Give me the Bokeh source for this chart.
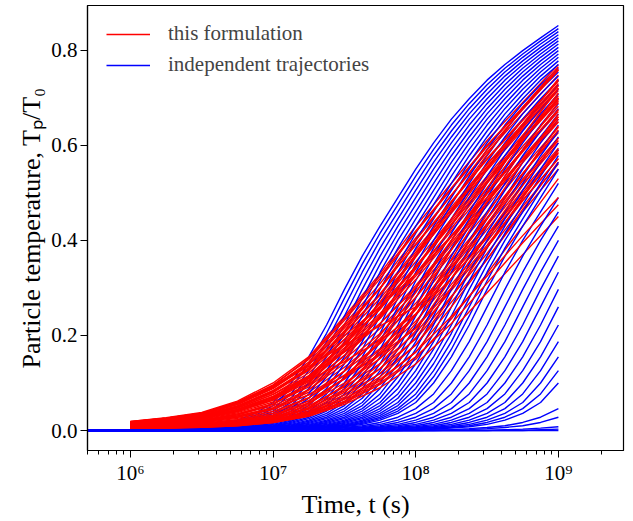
from bokeh.plotting import figure
from bokeh.models import (FixedTicker, CustomJSTickFormatter, PrintfTickFormatter,
                          Legend, LegendItem, Range1d)
from bokeh.embed import file_html
from bokeh.resources import INLINE

# ---------------- data ----------------
time_blue = [4e5,
             1e6, 1.334e6, 1.778e6, 2.371e6, 3.162e6, 4.217e6, 5.623e6, 7.499e6,
             1e7, 1.334e7, 1.778e7, 2.371e7, 3.162e7, 4.217e7, 5.623e7, 7.499e7,
             1e8, 1.334e8, 1.778e8, 2.371e8, 3.162e8, 4.217e8, 5.623e8, 7.499e8,
             1e9]
time_red = [1e6, 1.778e6, 3.162e6, 5.623e6, 1e7, 1.778e7, 3.162e7,
            5.623e7, 1e8, 1.778e8, 3.162e8, 5.623e8, 1e9]

blue_upper = [
    [0, 0, 0.0015, 0.003, 0.005, 0.008, 0.013, 0.022, 0.036, 0.059, 0.10, 0.155, 0.222, 0.297, 0.367, 0.43, 0.49, 0.55, 0.605, 0.655, 0.698, 0.737, 0.77, 0.799, 0.826, 0.852],
    [0, 0, 0.0013, 0.0025, 0.0045, 0.0073, 0.0115, 0.0195, 0.032, 0.0525, 0.0885, 0.1405, 0.2045, 0.2785, 0.35, 0.415, 0.475, 0.535, 0.5915, 0.6425, 0.6875, 0.7275, 0.762, 0.792, 0.8195, 0.8455],
    [0, 0, 0.001, 0.002, 0.004, 0.0065, 0.010, 0.017, 0.028, 0.046, 0.077, 0.126, 0.187, 0.26, 0.333, 0.40, 0.46, 0.52, 0.578, 0.63, 0.677, 0.718, 0.754, 0.785, 0.813, 0.839],
    [0, 0, 0.0005, 0.0018, 0.0035, 0.0058, 0.009, 0.015, 0.025, 0.041, 0.068, 0.113, 0.171, 0.241, 0.315, 0.3835, 0.445, 0.505, 0.564, 0.6175, 0.666, 0.708, 0.7455, 0.7775, 0.806, 0.8325],
    [0, 0, 0, 0.0015, 0.003, 0.005, 0.008, 0.013, 0.022, 0.036, 0.059, 0.10, 0.155, 0.222, 0.297, 0.367, 0.43, 0.49, 0.55, 0.605, 0.655, 0.698, 0.737, 0.77, 0.799, 0.826],
    [0, 0, 0, 0.0013, 0.0025, 0.0045, 0.0073, 0.0115, 0.0195, 0.032, 0.0525, 0.0885, 0.1405, 0.2045, 0.2785, 0.35, 0.415, 0.475, 0.535, 0.5915, 0.6425, 0.6875, 0.7275, 0.762, 0.792, 0.8195],
    [0, 0, 0, 0.001, 0.002, 0.004, 0.0065, 0.010, 0.017, 0.028, 0.046, 0.077, 0.126, 0.187, 0.26, 0.333, 0.40, 0.46, 0.52, 0.578, 0.63, 0.677, 0.718, 0.754, 0.785, 0.813],
    [0, 0, 0, 0.0005, 0.0018, 0.0035, 0.0058, 0.009, 0.015, 0.025, 0.041, 0.068, 0.113, 0.171, 0.241, 0.315, 0.3835, 0.445, 0.505, 0.564, 0.6175, 0.666, 0.708, 0.7455, 0.7775, 0.806],
    [0, 0, 0, 0, 0.0015, 0.003, 0.005, 0.008, 0.013, 0.022, 0.036, 0.059, 0.10, 0.155, 0.222, 0.297, 0.367, 0.43, 0.49, 0.55, 0.605, 0.655, 0.698, 0.737, 0.77, 0.799],
    [0, 0, 0, 0, 0.0013, 0.0025, 0.0045, 0.0073, 0.0115, 0.0195, 0.032, 0.0525, 0.0885, 0.1405, 0.2045, 0.2785, 0.35, 0.415, 0.475, 0.535, 0.5915, 0.6425, 0.6875, 0.7275, 0.762, 0.792],
    [0, 0, 0, 0, 0.001, 0.002, 0.004, 0.0065, 0.010, 0.017, 0.028, 0.046, 0.077, 0.126, 0.187, 0.26, 0.333, 0.40, 0.46, 0.52, 0.578, 0.63, 0.677, 0.718, 0.754, 0.785],
    [0, 0, 0, 0, 0.0005, 0.0018, 0.0035, 0.0058, 0.009, 0.015, 0.025, 0.041, 0.068, 0.113, 0.171, 0.241, 0.315, 0.3835, 0.445, 0.505, 0.564, 0.6175, 0.666, 0.708, 0.7455, 0.7775],
    [0, 0, 0, 0, 0, 0.0015, 0.003, 0.005, 0.008, 0.013, 0.022, 0.036, 0.059, 0.10, 0.155, 0.222, 0.297, 0.367, 0.43, 0.49, 0.55, 0.605, 0.655, 0.698, 0.737, 0.77],
    [0, 0, 0, 0, 0, 0.0013, 0.0025, 0.0045, 0.0073, 0.0115, 0.0195, 0.032, 0.0525, 0.0885, 0.1405, 0.2045, 0.2785, 0.35, 0.415, 0.475, 0.535, 0.5915, 0.6425, 0.6875, 0.7275, 0.762],
    [0, 0, 0, 0, 0, 0.001, 0.002, 0.004, 0.0065, 0.010, 0.017, 0.028, 0.046, 0.077, 0.126, 0.187, 0.26, 0.333, 0.40, 0.46, 0.52, 0.578, 0.63, 0.677, 0.718, 0.754],
    [0, 0, 0, 0, 0, 0.0005, 0.0018, 0.0035, 0.0058, 0.009, 0.015, 0.025, 0.041, 0.068, 0.113, 0.171, 0.241, 0.315, 0.3835, 0.445, 0.505, 0.564, 0.6175, 0.666, 0.708, 0.7455],
    [0, 0, 0, 0, 0, 0, 0.0015, 0.003, 0.005, 0.008, 0.013, 0.022, 0.036, 0.059, 0.10, 0.155, 0.222, 0.297, 0.367, 0.43, 0.49, 0.55, 0.605, 0.655, 0.698, 0.737],
    [0, 0, 0, 0, 0, 0, 0.0013, 0.0025, 0.0045, 0.0073, 0.0115, 0.0195, 0.032, 0.0525, 0.0885, 0.1405, 0.2045, 0.2785, 0.35, 0.415, 0.475, 0.535, 0.5915, 0.6425, 0.6875, 0.7275],
    [0, 0, 0, 0, 0, 0, 0.001, 0.002, 0.004, 0.0065, 0.010, 0.017, 0.028, 0.046, 0.077, 0.126, 0.187, 0.26, 0.333, 0.40, 0.46, 0.52, 0.578, 0.63, 0.677, 0.718],
    [0, 0, 0, 0, 0, 0, 0.0005, 0.0018, 0.0035, 0.0058, 0.009, 0.015, 0.025, 0.041, 0.068, 0.113, 0.171, 0.241, 0.315, 0.3835, 0.445, 0.505, 0.564, 0.6175, 0.666, 0.708],
    [0, 0, 0, 0, 0, 0, 0, 0.0015, 0.003, 0.005, 0.008, 0.013, 0.022, 0.036, 0.059, 0.10, 0.155, 0.222, 0.297, 0.367, 0.43, 0.49, 0.55, 0.605, 0.655, 0.698],
    [0, 0, 0, 0, 0, 0, 0, 0.0013, 0.0025, 0.0045, 0.0073, 0.0115, 0.0195, 0.032, 0.0525, 0.0885, 0.1405, 0.2045, 0.2785, 0.35, 0.415, 0.475, 0.535, 0.5915, 0.6425, 0.6875],
    [0, 0, 0, 0, 0, 0, 0, 0.001, 0.002, 0.004, 0.0065, 0.010, 0.017, 0.028, 0.046, 0.077, 0.126, 0.187, 0.26, 0.333, 0.40, 0.46, 0.52, 0.578, 0.63, 0.677],
    [0, 0, 0, 0, 0, 0, 0, 0.0005, 0.0018, 0.0035, 0.0058, 0.009, 0.015, 0.025, 0.041, 0.068, 0.113, 0.171, 0.241, 0.315, 0.3835, 0.445, 0.505, 0.564, 0.6175, 0.666],
    [0, 0, 0, 0, 0, 0, 0, 0, 0.0015, 0.003, 0.005, 0.008, 0.013, 0.022, 0.036, 0.059, 0.10, 0.155, 0.222, 0.297, 0.367, 0.43, 0.49, 0.55, 0.605, 0.655],
    [0, 0, 0, 0, 0, 0, 0, 0, 0.0013, 0.0025, 0.0045, 0.0073, 0.0115, 0.0195, 0.032, 0.0525, 0.0885, 0.1405, 0.2045, 0.2785, 0.35, 0.415, 0.475, 0.535, 0.5915, 0.6425],
    [0, 0, 0, 0, 0, 0, 0, 0, 0.001, 0.002, 0.004, 0.0065, 0.010, 0.017, 0.028, 0.046, 0.077, 0.126, 0.187, 0.26, 0.333, 0.40, 0.46, 0.52, 0.578, 0.63],
    [0, 0, 0, 0, 0, 0, 0, 0, 0.0005, 0.0018, 0.0035, 0.0058, 0.009, 0.015, 0.025, 0.041, 0.068, 0.113, 0.171, 0.241, 0.315, 0.3835, 0.445, 0.505, 0.564, 0.6175],
    [0, 0, 0, 0, 0, 0, 0, 0, 0, 0.0015, 0.003, 0.005, 0.008, 0.013, 0.022, 0.036, 0.059, 0.10, 0.155, 0.222, 0.297, 0.367, 0.43, 0.49, 0.55, 0.605],
    [0, 0, 0, 0, 0, 0, 0, 0, 0, 0.0013, 0.0025, 0.0045, 0.0073, 0.0115, 0.0195, 0.032, 0.0525, 0.0885, 0.1405, 0.2045, 0.2785, 0.35, 0.415, 0.475, 0.535, 0.5915],
    [0, 0, 0, 0, 0, 0, 0, 0, 0, 0.001, 0.002, 0.004, 0.0065, 0.010, 0.017, 0.028, 0.046, 0.077, 0.126, 0.187, 0.26, 0.333, 0.40, 0.46, 0.52, 0.578],
    [0, 0, 0, 0, 0, 0, 0, 0, 0, 0.0005, 0.0018, 0.0035, 0.0058, 0.009, 0.015, 0.025, 0.041, 0.068, 0.113, 0.171, 0.241, 0.315, 0.3835, 0.445, 0.505, 0.564],
]

blue_lower = [
    [0, 0, 0, 0, 0, 0, 0, 0, 0, 0, 0.0015, 0.003, 0.005, 0.008, 0.013, 0.022, 0.036, 0.059, 0.10, 0.155, 0.222, 0.297, 0.367, 0.43, 0.49, 0.55],
    [0, 0, 0, 0, 0, 0, 0, 0, 0, 0, 0.001, 0.002, 0.004, 0.0065, 0.010, 0.017, 0.028, 0.046, 0.077, 0.126, 0.187, 0.26, 0.333, 0.40, 0.46, 0.52],
    [0, 0, 0, 0, 0, 0, 0, 0, 0, 0, 0, 0.0015, 0.003, 0.005, 0.008, 0.013, 0.022, 0.036, 0.059, 0.10, 0.155, 0.222, 0.297, 0.367, 0.43, 0.49],
    [0, 0, 0, 0, 0, 0, 0, 0, 0, 0, 0, 0.001, 0.002, 0.004, 0.0065, 0.010, 0.017, 0.028, 0.046, 0.077, 0.126, 0.187, 0.26, 0.333, 0.40, 0.46],
    [0, 0, 0, 0, 0, 0, 0, 0, 0, 0, 0, 0, 0.0015, 0.003, 0.005, 0.008, 0.013, 0.022, 0.036, 0.059, 0.10, 0.155, 0.222, 0.297, 0.367, 0.43],
    [0, 0, 0, 0, 0, 0, 0, 0, 0, 0, 0, 0, 0.001, 0.002, 0.004, 0.0065, 0.010, 0.017, 0.028, 0.046, 0.077, 0.126, 0.187, 0.26, 0.333, 0.40],
    [0, 0, 0, 0, 0, 0, 0, 0, 0, 0, 0, 0, 0, 0.0015, 0.003, 0.005, 0.008, 0.013, 0.022, 0.036, 0.059, 0.10, 0.155, 0.222, 0.297, 0.367],
    [0, 0, 0, 0, 0, 0, 0, 0, 0, 0, 0, 0, 0, 0.001, 0.002, 0.004, 0.0065, 0.010, 0.017, 0.028, 0.046, 0.077, 0.126, 0.187, 0.26, 0.333],
    [0, 0, 0, 0, 0, 0, 0, 0, 0, 0, 0, 0, 0, 0, 0.0015, 0.003, 0.005, 0.008, 0.013, 0.022, 0.036, 0.059, 0.10, 0.155, 0.222, 0.297],
    [0, 0, 0, 0, 0, 0, 0, 0, 0, 0, 0, 0, 0, 0, 0.001, 0.002, 0.004, 0.0065, 0.010, 0.017, 0.028, 0.046, 0.077, 0.126, 0.187, 0.26],
    [0, 0, 0, 0, 0, 0, 0, 0, 0, 0, 0, 0, 0, 0, 0, 0.0015, 0.003, 0.005, 0.008, 0.013, 0.022, 0.036, 0.059, 0.10, 0.155, 0.222],
    [0, 0, 0, 0, 0, 0, 0, 0, 0, 0, 0, 0, 0, 0, 0, 0.001, 0.002, 0.004, 0.0065, 0.010, 0.017, 0.028, 0.046, 0.077, 0.126, 0.187],
    [0, 0, 0, 0, 0, 0, 0, 0, 0, 0, 0, 0, 0, 0, 0, 0, 0.0015, 0.003, 0.005, 0.008, 0.013, 0.022, 0.036, 0.059, 0.10, 0.155],
    [0, 0, 0, 0, 0, 0, 0, 0, 0, 0, 0, 0, 0, 0, 0, 0, 0.001, 0.002, 0.004, 0.0065, 0.010, 0.017, 0.028, 0.046, 0.077, 0.126],
    [0, 0, 0, 0, 0, 0, 0, 0, 0, 0, 0, 0, 0, 0, 0, 0, 0, 0.0015, 0.003, 0.005, 0.008, 0.013, 0.022, 0.036, 0.059, 0.10],
    [0, 0, 0, 0, 0, 0, 0, 0, 0, 0, 0, 0, 0, 0, 0, 0, 0, 0, 0.001, 0.002, 0.004, 0.0065, 0.010, 0.017, 0.028, 0.046],
    [0, 0, 0, 0, 0, 0, 0, 0, 0, 0, 0, 0, 0, 0, 0, 0, 0, 0, 0, 0.001, 0.002, 0.004, 0.0065, 0.010, 0.017, 0.028],
    [0, 0, 0, 0, 0, 0, 0, 0, 0, 0, 0, 0, 0, 0, 0, 0, 0, 0, 0, 0, 0, 0, 0.0015, 0.003, 0.005, 0.008],
    [0, 0, 0, 0, 0, 0, 0, 0, 0, 0, 0, 0, 0, 0, 0, 0, 0, 0, 0, 0, 0, 0, 0, 0, 0.0015, 0.003],
    [0, 0, 0, 0, 0, 0, 0, 0, 0, 0, 0, 0, 0, 0, 0, 0, 0, 0, 0, 0, 0, 0, 0, 0, 0, 0],
]

red_main = [
    [0.0115, 0.0165, 0.0235, 0.0375, 0.06, 0.0975, 0.158, 0.225, 0.305, 0.395, 0.485, 0.575, 0.66],
    [0.019, 0.027, 0.038, 0.062, 0.10, 0.155, 0.24, 0.33, 0.43, 0.52, 0.61, 0.69, 0.77],
    [0.007, 0.010, 0.015, 0.023, 0.036, 0.063, 0.108, 0.162, 0.23, 0.32, 0.41, 0.506, 0.594],
    [0.015, 0.022, 0.0305, 0.0495, 0.08, 0.1265, 0.199, 0.2775, 0.3675, 0.4575, 0.5475, 0.6325, 0.715],
    [0.0175, 0.025, 0.035, 0.057, 0.092, 0.144, 0.224, 0.309, 0.405, 0.495, 0.585, 0.667, 0.748],
    [0.009, 0.013, 0.0195, 0.0305, 0.048, 0.0805, 0.133, 0.1935, 0.2675, 0.3575, 0.4475, 0.5405, 0.627],
    [0.016, 0.023, 0.032, 0.052, 0.084, 0.132, 0.207, 0.288, 0.38, 0.47, 0.56, 0.644, 0.726],
    [0.004, 0.006, 0.009, 0.013, 0.02, 0.04, 0.075, 0.12, 0.18, 0.27, 0.36, 0.46, 0.55],
    [0.0145, 0.021, 0.029, 0.047, 0.076, 0.121, 0.191, 0.267, 0.355, 0.445, 0.535, 0.621, 0.704],
    [0.011, 0.015, 0.022, 0.035, 0.056, 0.092, 0.1495, 0.2145, 0.2925, 0.3825, 0.4725, 0.5635, 0.649],
    [0.018, 0.026, 0.0365, 0.0595, 0.096, 0.1495, 0.232, 0.3195, 0.4175, 0.5075, 0.5975, 0.6785, 0.759],
    [0.0055, 0.008, 0.012, 0.018, 0.028, 0.052, 0.092, 0.141, 0.205, 0.295, 0.385, 0.483, 0.572],
    [0.013, 0.019, 0.026, 0.042, 0.068, 0.109, 0.174, 0.246, 0.33, 0.42, 0.51, 0.598, 0.682],
    [0.008, 0.011, 0.0165, 0.0255, 0.04, 0.069, 0.1165, 0.1725, 0.2425, 0.3325, 0.4225, 0.5175, 0.605],
    [0.017, 0.024, 0.0335, 0.0545, 0.088, 0.138, 0.2155, 0.2985, 0.3925, 0.4825, 0.5725, 0.6555, 0.737],
    [0.010, 0.014, 0.021, 0.033, 0.052, 0.086, 0.141, 0.204, 0.28, 0.37, 0.46, 0.552, 0.638],
    [0.014, 0.020, 0.0275, 0.0445, 0.072, 0.115, 0.1825, 0.2565, 0.3425, 0.4325, 0.5225, 0.6095, 0.693],
    [0.006, 0.009, 0.0135, 0.0205, 0.032, 0.0575, 0.1, 0.1515, 0.2175, 0.3075, 0.3975, 0.4945, 0.583],
    [0.012, 0.018, 0.025, 0.040, 0.064, 0.103, 0.166, 0.2355, 0.3175, 0.4075, 0.4975, 0.5865, 0.671],
    [0.0085, 0.012, 0.018, 0.028, 0.044, 0.075, 0.125, 0.183, 0.255, 0.345, 0.435, 0.529, 0.616],
    [0.005, 0.007, 0.0105, 0.0155, 0.024, 0.046, 0.0835, 0.1305, 0.1925, 0.2825, 0.3725, 0.4715, 0.561],
]

red_cross = [
    [0.0055, 0.008, 0.012, 0.018, 0.030, 0.058, 0.11, 0.19, 0.29, 0.40, 0.51, 0.62, 0.72],
    [0.004, 0.005, 0.007, 0.010, 0.017, 0.031, 0.058, 0.097, 0.15, 0.235, 0.33, 0.43, 0.53],
    [0.0175, 0.025, 0.035, 0.057, 0.092, 0.135, 0.18, 0.22, 0.26, 0.33, 0.41, 0.50, 0.59],
    [0.019, 0.026, 0.036, 0.058, 0.095, 0.152, 0.236, 0.325, 0.42, 0.51, 0.60, 0.68, 0.76],
    [0.010, 0.014, 0.021, 0.033, 0.055, 0.10, 0.17, 0.26, 0.37, 0.48, 0.58, 0.68, 0.765],
    [0.004, 0.0055, 0.0075, 0.011, 0.018, 0.033, 0.062, 0.105, 0.165, 0.26, 0.36, 0.465, 0.565],
    [0.0145, 0.021, 0.029, 0.047, 0.076, 0.115, 0.165, 0.225, 0.30, 0.39, 0.48, 0.57, 0.655],
    [0.0165, 0.024, 0.034, 0.055, 0.09, 0.14, 0.22, 0.30, 0.39, 0.48, 0.57, 0.652, 0.735],
    [0.007, 0.010, 0.015, 0.023, 0.036, 0.068, 0.125, 0.20, 0.30, 0.40, 0.50, 0.59, 0.675],
    [0.0045, 0.006, 0.008, 0.012, 0.019, 0.035, 0.066, 0.113, 0.18, 0.28, 0.385, 0.49, 0.59],
    [0.012, 0.018, 0.025, 0.040, 0.064, 0.11, 0.18, 0.27, 0.37, 0.465, 0.56, 0.645, 0.73],
    [0.0155, 0.022, 0.031, 0.05, 0.082, 0.13, 0.205, 0.285, 0.375, 0.465, 0.552, 0.637, 0.72],
    [0.005, 0.007, 0.0105, 0.0155, 0.024, 0.048, 0.095, 0.16, 0.245, 0.34, 0.43, 0.525, 0.61],
    [0.005, 0.0065, 0.0085, 0.0125, 0.020, 0.037, 0.07, 0.12, 0.195, 0.30, 0.41, 0.515, 0.615],
    [0.016, 0.023, 0.032, 0.052, 0.084, 0.128, 0.192, 0.262, 0.345, 0.435, 0.525, 0.612, 0.696],
    [0.0135, 0.0195, 0.027, 0.044, 0.07, 0.113, 0.18, 0.255, 0.345, 0.44, 0.53, 0.615, 0.70],
    [0.0085, 0.012, 0.018, 0.028, 0.046, 0.085, 0.15, 0.24, 0.34, 0.445, 0.55, 0.645, 0.74],
    [0.0055, 0.007, 0.009, 0.013, 0.021, 0.039, 0.075, 0.13, 0.21, 0.32, 0.435, 0.54, 0.64],
    [0.014, 0.020, 0.0275, 0.0445, 0.072, 0.105, 0.145, 0.19, 0.245, 0.32, 0.405, 0.495, 0.585],
    [0.0125, 0.018, 0.025, 0.041, 0.066, 0.106, 0.17, 0.242, 0.325, 0.41, 0.50, 0.59, 0.675],
    [0.011, 0.015, 0.022, 0.035, 0.056, 0.095, 0.158, 0.237, 0.33, 0.425, 0.52, 0.61, 0.70],
    [0.006, 0.0075, 0.0095, 0.014, 0.022, 0.042, 0.08, 0.14, 0.225, 0.34, 0.455, 0.565, 0.665],
    [0.018, 0.026, 0.0365, 0.0595, 0.094, 0.14, 0.2, 0.26, 0.33, 0.41, 0.49, 0.57, 0.65],
    [0.006, 0.009, 0.0135, 0.0205, 0.033, 0.062, 0.11, 0.17, 0.255, 0.35, 0.445, 0.54, 0.632],
    [0.0065, 0.008, 0.010, 0.015, 0.024, 0.045, 0.087, 0.152, 0.243, 0.36, 0.48, 0.59, 0.69],
    [0.015, 0.022, 0.0305, 0.0495, 0.08, 0.13, 0.21, 0.30, 0.40, 0.495, 0.59, 0.675, 0.758],
    [0.009, 0.013, 0.0195, 0.0305, 0.047, 0.075, 0.115, 0.16, 0.215, 0.30, 0.39, 0.485, 0.572],
    [0.007, 0.009, 0.011, 0.016, 0.026, 0.048, 0.094, 0.165, 0.26, 0.38, 0.50, 0.61, 0.71],
    [0.013, 0.019, 0.026, 0.042, 0.068, 0.113, 0.185, 0.27, 0.365, 0.46, 0.555, 0.64, 0.725],
    [0.005, 0.007, 0.0105, 0.0155, 0.026, 0.055, 0.11, 0.185, 0.28, 0.38, 0.48, 0.57, 0.66],
]

red_low = [
    [0.004, 0.005, 0.007, 0.010, 0.017, 0.03, 0.055, 0.09, 0.14, 0.21, 0.29, 0.37, 0.45],
    [0.005, 0.006, 0.008, 0.012, 0.019, 0.034, 0.06, 0.10, 0.155, 0.225, 0.31, 0.395, 0.475],
    [0.005, 0.007, 0.009, 0.013, 0.021, 0.037, 0.066, 0.108, 0.165, 0.24, 0.325, 0.41, 0.49],
]

x_major_ticks = [1e6, 1e7, 1e8, 1e9]
y_major_ticks = [0.0, 0.2, 0.4, 0.6, 0.8]

legend_labels = ["this formulation", "independent trajectories"]
x_label = "Time, t (s)"
y_label = "Particle temperature, T\u209a/T\u2080"

# ---------------- figure ----------------
BLUE = "#0000ff"
RED = "#ff0000"
FONT = "Liberation Serif"
LW = 1.4

p = figure(width=633, height=521, x_axis_type="log",
           x_range=Range1d(5.0e5, 2.86e9), y_range=Range1d(-0.042, 0.894),
           output_backend="svg", toolbar_location=None,
           min_border_left=87, min_border_right=10, min_border_top=5,
           min_border_bottom=69)

p.xgrid.visible = False
p.ygrid.visible = False
p.outline_line_color = "black"
p.outline_line_width = 1.2
p.background_fill_color = "white"
p.border_fill_color = "white"

red_all = red_main + red_cross
n = max(len(blue_upper), len(red_all))
for i in range(n):
    if i < len(blue_upper):
        p.line(time_blue, blue_upper[i], line_color=BLUE, line_width=LW)
    if i < len(red_all):
        p.line(time_red, red_all[i], line_color=RED, line_width=LW)
for j in range(max(len(blue_lower), len(red_low))):
    if j < len(blue_lower):
        p.line(time_blue, blue_lower[j], line_color=BLUE, line_width=LW)
    if j < len(red_low):
        p.line(time_red, red_low[j], line_color=RED, line_width=LW)

# renderers used only as legend keys (their points lie outside the visible range)
key_x = [1e3, 2e3]
key_y = [-1.0, -1.0]
key_red = p.line(key_x, key_y, line_color=RED, line_width=1.5)
key_blue = p.line(key_x, key_y, line_color=BLUE, line_width=1.5)

# axes
minor = [m * 10 ** k for k in range(5, 10) for m in range(2, 10)]
p.xaxis.ticker = FixedTicker(ticks=x_major_ticks, minor_ticks=minor)
p.xaxis.formatter = CustomJSTickFormatter(code="""
const sup = {"0":"\u2070","1":"\u00b9","2":"\u00b2","3":"\u00b3","4":"\u2074",
             "5":"\u2075","6":"\u2076","7":"\u2077","8":"\u2078","9":"\u2079","-":"\u207b"};
const e = Math.round(Math.log10(tick));
return "10" + String(e).split("").map(c => sup[c]).join("");
""")
p.yaxis.ticker = FixedTicker(ticks=y_major_ticks, minor_ticks=[])
p.yaxis.formatter = PrintfTickFormatter(format="%.1f")

for ax in (p.xaxis[0], p.yaxis[0]):
    ax.major_label_text_font = FONT
    ax.major_label_text_font_size = "21px"
    ax.major_label_text_color = "black"
    ax.axis_label_text_font = FONT
    ax.axis_label_text_font_size = "26px"
    ax.axis_label_text_font_style = "normal"
    ax.axis_label_text_color = "black"
    ax.axis_line_color = "black"
    ax.axis_line_width = 1.2
    ax.major_tick_line_color = "black"
    ax.minor_tick_line_color = "black"
    ax.major_tick_out = 7
    ax.major_tick_in = 0
    ax.minor_tick_out = 4
    ax.minor_tick_in = 0
    ax.major_label_standoff = 3
    ax.axis_label_standoff = 2

p.xaxis.axis_label = x_label
p.yaxis.axis_label = y_label

legend = Legend(items=[LegendItem(label=legend_labels[0], renderers=[key_red]),
                       LegendItem(label=legend_labels[1], renderers=[key_blue])],
                location=(13, 367))
legend.label_text_font = FONT
legend.label_text_font_size = "21px"
legend.glyph_width = 44
legend.glyph_height = 22
legend.label_height = 22
legend.label_standoff = 18
legend.spacing = 6
legend.padding = 6
legend.margin = 0
legend.border_line_alpha = 0
legend.background_fill_alpha = 0
p.add_layout(legend, "center")

open("out.html", "w").write(file_html(p, INLINE))
